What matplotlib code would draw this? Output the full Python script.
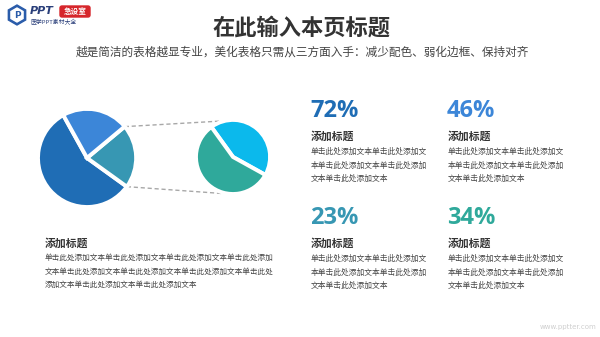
#!/usr/bin/env python

import numpy as np
from matplotlib import pyplot as plt
from matplotlib.patches import FancyBboxPatch, RegularPolygon

CJK = ['Noto Sans CJK SC', 'DejaVu Sans']

# data
main_labels = ['深蓝', '青蓝', '浅蓝']
main_vals   = [57, 21, 22]
main_cols   = ['#1f6db5', '#3797b3', '#3c86d8']
sub_vals    = [43, 57]
sub_cols    = ['#0bb9ec', '#2fa99b']

pcts     = ['72%', '46%', '23%', '34%']
pct_cols = ['#1f6db5', '#3c86d8', '#3797b3', '#2fa99b']
heading  = '添加标题'
body_r   = ['单击此处添加文本单击此处添加文',
            '本单击此处添加文本单击此处添加',
            '文本单击此处添加文本']
body_l   = ['单击此处添加文本单击此处添加文本单击此处添加文本单击此处添加',
            '文本单击此处添加文本单击此处添加文本单击此处添加文本单击此处',
            '添加文本单击此处添加文本单击此处添加文本']
title    = '在此输入本页标题'
subtitle = '越是简洁的表格越显专业，美化表格只需从三方面入手：减少配色、弱化边框、保持对齐'

H = 337


def Y(y):
    # pixel row from top -> data y
    return H - y


def main():
    fig = plt.figure(figsize=(6, 3.37), dpi=100)
    ax = fig.add_axes([0, 0, 1, 1])

    # main pie
    wp = dict(edgecolor='white', linewidth=2.8)
    w1, _ = ax.pie(main_vals, colors=main_cols, startangle=119,
                   counterclock=True, explode=[0, 0.11, 0.12],
                   radius=49, center=(87, Y(158)), wedgeprops=wp)
    # sub pie
    w2, _ = ax.pie(sub_vals, colors=sub_cols, startangle=-29,
                   counterclock=True, explode=[0.09, 0],
                   radius=37, center=(233, Y(157)), wedgeprops=wp)

    # dashed connectors from teal wedge to small pie
    teal = w1[1]
    cx2, cy2 = 233, Y(157)
    for th1, th2 in [(teal.theta2, 109), (teal.theta1, 254)]:
        x0 = teal.center[0] + teal.r * np.cos(np.radians(th1))
        y0 = teal.center[1] + teal.r * np.sin(np.radians(th1))
        x1 = cx2 + 38 * np.cos(np.radians(th2))
        y1 = cy2 + 38 * np.sin(np.radians(th2))
        ax.plot([x0, x1], [y0, y1], ls=(0, (3, 2)), color='#a8a8a8',
                lw=1, zorder=0)

    ax.set_xlim(0, 600)
    ax.set_ylim(0, H)
    ax.set_aspect('equal')
    ax.axis('off')

    # titles
    ax.text(301, Y(28), title, family=CJK, fontsize=16, fontweight='bold',
            color='#333333', ha='center', va='center')
    ax.text(302, Y(52), subtitle, family=CJK, fontsize=8.4,
            color='#444444', ha='center', va='center')

    # four stat blocks
    xs = [311, 448, 311, 448]
    ys = [111, 111, 218, 218]
    for p, c, x, y in zip(pcts, pct_cols, xs, ys):
        ax.text(x - 1, Y(y), p, family=['Open Sans', 'DejaVu Sans'],
                fontsize=17, fontweight='bold', color=c,
                ha='left', va='center')
        ax.text(x, Y(y + 25), heading, family=CJK, fontsize=7.8,
                fontweight='bold', color='#333333', ha='left', va='center')
        for i, line in enumerate(body_r):
            ax.text(x, Y(y + 41 + i * 13.5), line, family=CJK,
                    fontsize=5.6, color='#444444', ha='left', va='center')

    # bottom-left block
    ax.text(45, Y(243), heading, family=CJK, fontsize=7.8,
            fontweight='bold', color='#333333', ha='left', va='center')
    for i, line in enumerate(body_l):
        ax.text(45, Y(258 + i * 13.5), line, family=CJK,
                fontsize=5.5, color='#444444', ha='left', va='center')

    # logo
    ax.add_patch(RegularPolygon((17, Y(15)), 6, radius=10, color='#2a5caa',
                                orientation=0))
    ax.add_patch(RegularPolygon((17, Y(15)), 6, radius=7, color='white',
                                orientation=0))
    ax.text(17, Y(15), 'P', fontsize=6.5, fontweight='bold',
            color='#2a5caa', ha='center', va='center')
    ax.text(30, Y(11), 'PPT', fontsize=8, fontweight='bold', style='italic',
            color='#2a3f7a', ha='left', va='center')
    ax.add_patch(FancyBboxPatch((60, Y(17)), 30, 11,
                                boxstyle='round,pad=0,rounding_size=2',
                                color='#d6262b'))
    ax.text(75, Y(11.5), '急设室', family=CJK, fontsize=5.5,
            fontweight='bold', color='white', ha='center', va='center')
    ax.text(30, Y(22), '医学PPT素材大全', family=CJK, fontsize=4.2,
            color='#2a3f7a', ha='left', va='center')

    # watermark
    ax.text(596, Y(327), 'www.pptter.com', fontsize=5, color='#cfcfcf',
            ha='right', va='center')

    fig.savefig('out.png', dpi=100, facecolor='white')


if __name__ == '__main__':
    main()
